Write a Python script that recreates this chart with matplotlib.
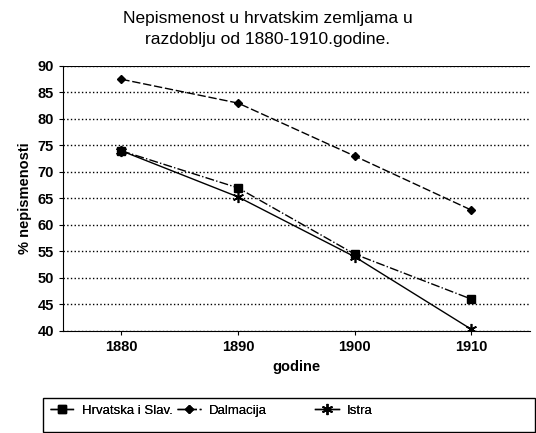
import numpy as np
import matplotlib.pyplot as plt
from matplotlib.patches import Rectangle

# Data
years = ["1880", "1890", "1900", "1910"]
hrvatska = [74, 67, 54.5, 46]
dalmacija = [87.5, 83, 73, 62.8]
istra = [74, 65.3, 54, 40.3]

plt.rcParams['font.family'] = ['Liberation Sans', 'DejaVu Sans']

fig = plt.figure(figsize=(5.36, 4.33), dpi=100)
ax = fig.add_axes([0.1175, 0.2356, 0.871, 0.612])

x = np.arange(len(years))
l1, = ax.plot(x, hrvatska, color="black", lw=1, ls="-.", marker="s", ms=6,
              label="Hrvatska i Slav.")
l2, = ax.plot(x, dalmacija, color="black", lw=1, ls=(0, (6, 2)), marker="D", ms=4,
              label="Dalmacija")
l3, = ax.plot(x, istra, color="black", lw=1, ls="-", marker=(6, 2, 0), ms=8, mew=1.2,
              label="Istra")

ax.set_xlim(-0.5, 3.5)
ax.set_ylim(40, 90)
ax.set_yticks(np.arange(40, 91, 5))
ax.set_xticks(x)
ax.set_xticklabels(years)
ax.tick_params(labelsize=10.5, length=3, direction="out")
for lab in ax.get_xticklabels() + ax.get_yticklabels():
    lab.set_fontweight("bold")
ax.yaxis.grid(True, ls=":", color="black", lw=1)
for side in ["top", "right"]:
    ax.spines[side].set_visible(False)
ax.axhline(90, color="black", lw=1.5)

ax.set_xlabel("godine", fontsize=10.5, fontweight="bold", labelpad=4)
ax.set_ylabel("% nepismenosti", fontsize=10.5, fontweight="bold")
fig.suptitle("Nepismenost u hrvatskim zemljama u\nrazdoblju od 1880-1910.godine.",
             fontsize=12.5, y=0.975, linespacing=1.5)

# legend entries at fixed positions, like the original
for line, xpos in zip([l1, l2, l3], [0.093, 0.33, 0.588]):
    leg = fig.legend([line], [line.get_label()], loc="center left",
                     bbox_to_anchor=(xpos, 0.052), fontsize=9.5, frameon=False,
                     handlelength=1.8, handletextpad=0.6, borderaxespad=0,
                     borderpad=0)
    fig.add_artist(leg)
fig.add_artist(Rectangle((0.08, 0.003), 0.918, 0.078, transform=fig.transFigure,
                         fill=False, edgecolor="black", lw=1))

plt.savefig("out.png", dpi=100)
